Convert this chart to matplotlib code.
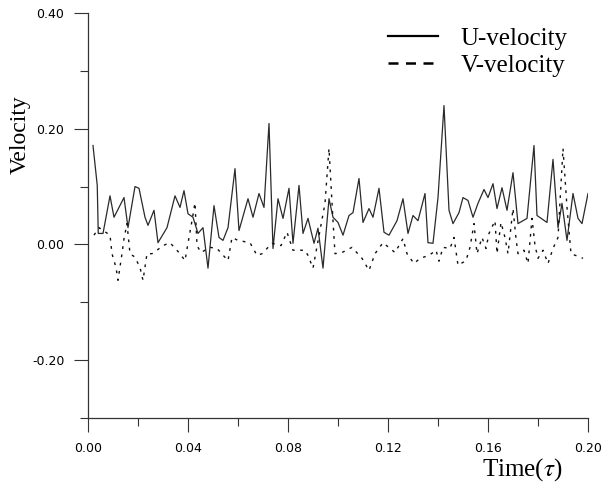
import matplotlib
matplotlib.use("Agg")
import matplotlib.pyplot as plt
from matplotlib.lines import Line2D
from matplotlib.ticker import MultipleLocator, FormatStrFormatter

plt.rcParams["mathtext.fontset"] = "stix"

# --- datos ---
t_u = [0.0020, 0.0037, 0.0041, 0.0060, 0.0088, 0.0104, 0.0144, 0.0160, 0.0188, 0.0204,
       0.0228, 0.0240, 0.0264, 0.0280, 0.0316, 0.0348, 0.0368, 0.0384, 0.0400, 0.0420,
       0.0440, 0.0460, 0.0480, 0.0504, 0.0524, 0.0540, 0.0560, 0.0588, 0.0604, 0.0640,
       0.0660, 0.0684, 0.0704, 0.0724, 0.0740, 0.0760, 0.0780, 0.0804, 0.0820, 0.0844,
       0.0860, 0.0880, 0.0904, 0.0920, 0.0940, 0.0964, 0.0980, 0.1000, 0.1020, 0.1044,
       0.1060, 0.1084, 0.1100, 0.1124, 0.1140, 0.1164, 0.1184, 0.1204, 0.1236, 0.1260,
       0.1280, 0.1300, 0.1320, 0.1348, 0.1360, 0.1380, 0.1400, 0.1424, 0.1444, 0.1460,
       0.1484, 0.1500, 0.1520, 0.1540, 0.1560, 0.1584, 0.1600, 0.1620, 0.1636, 0.1656,
       0.1676, 0.1700, 0.1720, 0.1756, 0.1784, 0.1796, 0.1836, 0.1860, 0.1880, 0.1896,
       0.1916, 0.1940, 0.1960, 0.1976, 0.2000]
u_vel = [0.171, 0.102, 0.019, 0.019, 0.084, 0.047, 0.081, 0.029, 0.100, 0.097,
         0.047, 0.033, 0.059, 0.003, 0.029, 0.084, 0.064, 0.093, 0.053, 0.047,
         0.019, 0.029, -0.041, 0.067, 0.012, 0.007, 0.029, 0.131, 0.024, 0.079,
         0.047, 0.088, 0.064, 0.209, -0.007, 0.079, 0.045, 0.097, 0.002, 0.102,
         0.019, 0.045, 0.002, 0.028, -0.041, 0.079, 0.047, 0.038, 0.016, 0.050,
         0.055, 0.114, 0.038, 0.062, 0.047, 0.097, 0.021, 0.016, 0.041, 0.079,
         0.019, 0.050, 0.041, 0.088, 0.003, 0.002, 0.081, 0.240, 0.059, 0.036,
         0.055, 0.081, 0.076, 0.047, 0.071, 0.095, 0.081, 0.105, 0.062, 0.098,
         0.059, 0.124, 0.036, 0.045, 0.171, 0.050, 0.038, 0.147, 0.029, 0.071,
         0.007, 0.088, 0.045, 0.036, 0.088]

t_v = [0.0024, 0.0044, 0.0088, 0.0096, 0.0112, 0.0120, 0.0136, 0.0144, 0.0156, 0.0168,
       0.0188, 0.0208, 0.0220, 0.0236, 0.0256, 0.0276, 0.0300, 0.0328, 0.0368, 0.0388,
       0.0400, 0.0416, 0.0428, 0.0436, 0.0452, 0.0488, 0.0516, 0.0560, 0.0576, 0.0600,
       0.0648, 0.0676, 0.0696, 0.0736, 0.0772, 0.0796, 0.0820, 0.0868, 0.0880, 0.0900,
       0.0948, 0.0964, 0.0980, 0.0988, 0.1016, 0.1056, 0.1096, 0.1124, 0.1148, 0.1180,
       0.1228, 0.1260, 0.1276, 0.1304, 0.1328, 0.1364, 0.1392, 0.1404, 0.1420, 0.1448,
       0.1464, 0.1480, 0.1512, 0.1528, 0.1544, 0.1556, 0.1576, 0.1592, 0.1604, 0.1628,
       0.1636, 0.1652, 0.1668, 0.1680, 0.1700, 0.1712, 0.1720, 0.1744, 0.1760, 0.1776,
       0.1788, 0.1800, 0.1820, 0.1840, 0.1860, 0.1880, 0.1900, 0.1908, 0.1916, 0.1932,
       0.1980]
v_vel = [0.016, 0.029, 0.016, -0.016, -0.040, -0.062, -0.016, 0.010, 0.036, -0.016,
         -0.022, -0.040, -0.062, -0.016, -0.016, -0.010, -0.002, 0.003, -0.016, -0.028,
         0.002, 0.041, 0.072, -0.002, -0.014, -0.005, -0.007, -0.028, 0.012, 0.007,
         0.003, -0.019, -0.016, 0.002, -0.002, 0.021, -0.010, -0.010, -0.019, -0.041,
         0.071, 0.166, 0.041, -0.016, -0.014, -0.005, -0.024, -0.045, -0.016, 0.003,
         -0.014, 0.010, -0.016, -0.033, -0.024, -0.019, -0.010, -0.029, -0.005, -0.007,
         0.012, -0.036, -0.028, -0.005, 0.036, -0.016, 0.012, -0.007, 0.019, 0.041,
         -0.016, 0.038, 0.012, -0.016, 0.062, 0.010, -0.016, -0.010, -0.033, 0.045,
         -0.002, -0.024, -0.010, -0.033, -0.007, 0.012, 0.166, 0.115, 0.064, -0.016,
         -0.024]

x_ticks = [0.00, 0.04, 0.08, 0.12, 0.16, 0.20]
y_ticks = [-0.20, 0.00, 0.20, 0.40]

fig = plt.figure(figsize=(6.06, 4.84), dpi=100)
ax = fig.add_axes([88 / 606, 1 - 418 / 484, 500 / 606, 405 / 484])

ax.plot(t_u, u_vel, color="#2a2a2a", lw=0.9)
ax.plot(t_v, v_vel, color="#111111", lw=1.0, dashes=(2, 4))

ax.set_xlim(0, 0.20)
ax.set_ylim(-0.30, 0.40)
ax.set_xticks(x_ticks)
ax.set_yticks(y_ticks)
ax.xaxis.set_minor_locator(MultipleLocator(0.02))
ax.yaxis.set_minor_locator(MultipleLocator(0.10))
ax.xaxis.set_major_formatter(FormatStrFormatter("%.2f"))
ax.yaxis.set_major_formatter(FormatStrFormatter("%.2f"))

for s in ["top", "right"]:
    ax.spines[s].set_visible(False)
for s in ["left", "bottom"]:
    ax.spines[s].set_color("#333333")
    ax.spines[s].set_linewidth(0.9)

ax.tick_params(which="major", direction="out", length=10, width=0.8, color="#333333",
               labelsize=9, pad=7)
ax.tick_params(which="minor", direction="out", length=6, width=0.8, color="#333333")
for lab in ax.get_xticklabels() + ax.get_yticklabels():
    lab.set_family("DejaVu Sans")

fig.text(20 / 606, 1 - 135 / 484, "Velocity", family="Liberation Serif", fontsize=17,
         rotation=90, ha="center", va="center")
fig.text(522 / 606, 1 - 470 / 484, r"Time($\tau$)", family="Liberation Serif",
         fontsize=18, ha="center", va="center")

handles = [Line2D([], [], color="black", lw=1.6),
           Line2D([], [], color="black", lw=1.8, dashes=(4, 3))]
fig.legend(handles, ["U-velocity", "V-velocity"], loc="upper left",
           bbox_to_anchor=(388 / 606, 1 - 27 / 484), frameon=False,
           prop={"family": "Liberation Serif", "size": 18},
           handlelength=2.0, handletextpad=0.9, labelspacing=0.2,
           borderpad=0, borderaxespad=0)

fig.savefig("out.png", dpi=100)
